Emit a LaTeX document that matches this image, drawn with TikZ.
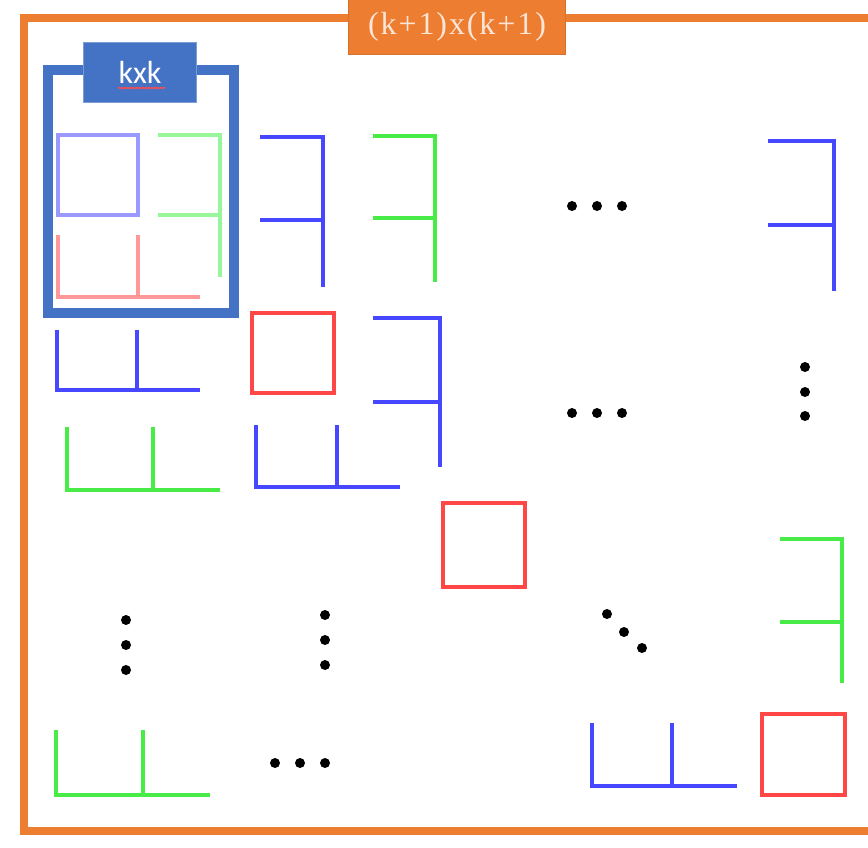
\documentclass[tikz,border=0pt]{standalone}
\usepackage{fontspec}
\usetikzlibrary{decorations.pathmorphing}
\setmainfont{Liberation Serif}
\newfontfamily\titlefont[LetterSpace=6]{Liberation Serif}
\newfontfamily\labfont{Carlito}
\definecolor{offorange}{RGB}{237,125,49}
\definecolor{offblue}{RGB}{68,114,196}
\definecolor{pb}{RGB}{0,0,255}
\definecolor{pg}{RGB}{0,230,0}
\definecolor{pr}{RGB}{255,0,0}
\tikzset{
  seg/.style={line width=4.5pt, draw opacity=0.72, line cap=butt, line join=miter},
  segl/.style={line width=4.5pt, draw opacity=0.4, line cap=butt, line join=miter},
  dot/.style={circle, fill=black, inner sep=0pt, minimum size=10pt},
}
\begin{document}
\begin{tikzpicture}[x=1pt,y=-1pt]
\useasboundingbox (0,0) rectangle (868,847);
\clip (0,0) rectangle (868,847);
\fill[white] (0,0) rectangle (868,847);
% outer orange frame
\draw[offorange, line width=8pt] (24,18) rectangle (900,831);
\node[fill=offorange, draw=offorange!90!black, line width=0.8pt, minimum width=217pt, minimum height=66pt, inner sep=0pt] (titlebox) at (456.5,21) {};
\node[text=white!80!offorange, font=\titlefont\fontsize{32}{34}\selectfont, inner sep=0pt] (title) at (457,27) {(k+1)x(k+1)};
% kxk frame
\draw[offblue, line width=10pt] (48,70) rectangle (234,313);
\node[fill=offblue, draw=offblue!70!white, line width=0.8pt, minimum width=113pt, minimum height=60pt, inner sep=0pt,
      text=white, font=\labfont\fontsize{32}{34}\selectfont] (kk) at (140,72) {kxk};
\draw[red!70!white, line width=1.2pt, decorate, decoration={snake, amplitude=0.6pt, segment length=3pt}] (118,88) -- (165,88);
% shapes inside kxk (light)
\draw[segl, pb] (58,135) rectangle (138,215);
\draw[segl, pg] (158,135) -- (220,135) -- (220,277) (158,215) -- (220,215);
\draw[segl, pr] (58,235) -- (58,297) -- (200,297) (138,235) -- (138,297);
% row 1
\draw[seg, pb] (260,137) -- (323,137) -- (323,287) (260,220) -- (323,220);
\draw[seg, pg] (373,136) -- (435,136) -- (435,282) (373,218) -- (435,218);
\node[dot] (d1a) at (572,206) {};
\node[dot] (d1b) at (597,206) {};
\node[dot] (d1c) at (622,206) {};
\draw[seg, pb] (768,141) -- (834,141) -- (834,291) (768,225) -- (834,225);
% row 2
\draw[seg, pb] (57,330) -- (57,390) -- (200,390) (137,330) -- (137,390);
\draw[seg, pr] (252,313) rectangle (334,393);
\draw[seg, pb] (373,318) -- (440,318) -- (440,467) (373,402) -- (440,402);
\draw[seg, pb] (256,425) -- (256,487) -- (400,487) (337,425) -- (337,487);
\draw[seg, pg] (67,427) -- (67,490) -- (220,490) (153,427) -- (153,490);
\node[dot] (d2a) at (572,413) {};
\node[dot] (d2b) at (597,413) {};
\node[dot] (d2c) at (622,413) {};
\node[dot] (v1a) at (805,367) {};
\node[dot] (v1b) at (805,392) {};
\node[dot] (v1c) at (805,416) {};
% row 3
\draw[seg, pr] (443,503) rectangle (525,587);
\draw[seg, pg] (780,539) -- (842,539) -- (842,683) (780,622) -- (842,622);
% row 4 dots
\node[dot] (v2a) at (126,620) {};
\node[dot] (v2b) at (126,645) {};
\node[dot] (v2c) at (126,670) {};
\node[dot] (v3a) at (325,615) {};
\node[dot] (v3b) at (325,640) {};
\node[dot] (v3c) at (325,665) {};
\node[dot] (g1) at (607,614) {};
\node[dot] (g2) at (624,632) {};
\node[dot] (g3) at (642,648) {};
% row 5
\draw[seg, pg] (56,730) -- (56,795) -- (210,795) (143,730) -- (143,795);
\node[dot] (d3a) at (275,763) {};
\node[dot] (d3b) at (300,763) {};
\node[dot] (d3c) at (325,763) {};
\draw[seg, pb] (592,723) -- (592,786) -- (737,786) (672,723) -- (672,786);
\draw[seg, pr] (762,714) rectangle (845,795);
\end{tikzpicture}
\end{document}
